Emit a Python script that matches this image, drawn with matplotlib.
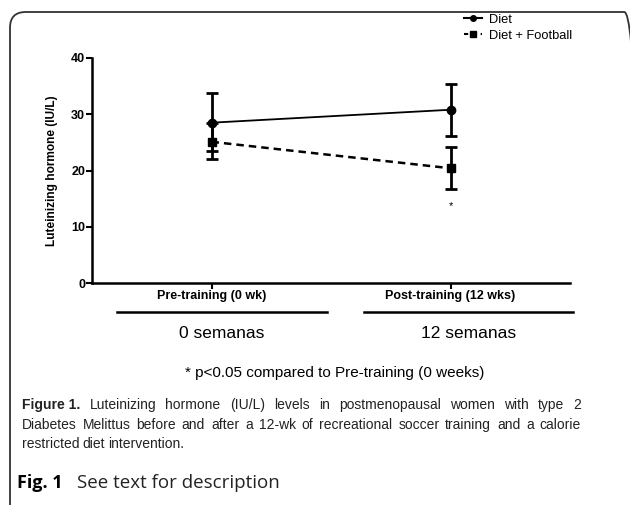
import matplotlib
matplotlib.use("Agg")
import matplotlib.pyplot as plt
from matplotlib.patches import FancyBboxPatch
from matplotlib.lines import Line2D

# data
timepoints = ["Pre-training (0 wk)", "Post-training (12 wks)"]
period_labels = ["0 semanas", "12 semanas"]
diet_mean = [28.5, 30.8]
diet_err_low = [5.0, 4.7]
diet_err_high = [5.2, 4.6]
football_mean = [25.1, 20.4]
football_err_low = [3.0, 3.7]
football_err_high = [3.4, 3.8]
y_ticks = [0, 10, 20, 30, 40]

W, H = 630, 505
fig = plt.figure(figsize=(W / 100, H / 100), dpi=100)
plt.rcParams['font.family'] = ['Liberation Sans', 'DejaVu Sans']


def fx(px):
    return px / W


def fy(py):
    return 1 - py / H


# rounded panel border (right and bottom run off the image)
frame = FancyBboxPatch((fx(10), fy(522)), fx(640) - fx(10), fy(12) - fy(522),
                       boxstyle="round,pad=0,rounding_size=0.025",
                       transform=fig.transFigure, fill=False,
                       edgecolor="#333333", linewidth=1.3, mutation_aspect=W / H)
fig.patches.append(frame)

ax = fig.add_axes([fx(92), fy(283), fx(570) - fx(92), fy(58) - fy(283)])
xpos = [0.5, 1.5]

ax.errorbar(xpos, football_mean, yerr=[football_err_low, football_err_high], color="black",
            marker="s", markersize=5.5, linestyle=(0, (3, 2)), linewidth=1.8,
            elinewidth=2, capsize=4, capthick=2, label="Diet + Football")
ax.errorbar(xpos, diet_mean, yerr=[diet_err_low, diet_err_high], color="black",
            marker="o", markersize=6, linestyle="-", linewidth=1.3,
            elinewidth=2, capsize=4, capthick=2, label="Diet")
ax.text(xpos[1], 13.7, "*", ha="center", va="center", fontsize=8)

ax.set_xlim(0, 2)
ax.set_ylim(0, 40)
ax.set_yticks(y_ticks)
ax.set_yticklabels([str(t) for t in y_ticks], fontsize=9, fontweight="bold")
ax.set_xticks(xpos)
ax.set_xticklabels(timepoints, fontsize=9, fontweight="bold")
ax.tick_params(axis="both", direction="out", length=4, width=1.5, pad=1)
ax.spines["top"].set_visible(False)
ax.spines["right"].set_visible(False)
ax.spines["left"].set_linewidth(1.8)
ax.spines["bottom"].set_linewidth(1.8)
ax.set_ylabel("Luteinizing hormone (IU/L)", fontsize=8.6, fontweight="bold", labelpad=9)

handles = [
    Line2D([], [], color="black", marker="o", markersize=4, linestyle="-", linewidth=1.5),
    Line2D([], [], color="black", marker="s", markersize=4, linestyle=(0, (2, 2)), linewidth=1.5),
]
fig.legend(handles, ["Diet", "Diet + Football"], loc="upper left",
           bbox_to_anchor=(fx(452), fy(2)), frameon=False, fontsize=9.3,
           handlelength=1.4, handletextpad=0.6, labelspacing=0.3)

# period bars below the axis
for (x0, x1), lab in zip([(117, 327), (364, 573)], period_labels):
    fig.add_artist(Line2D([fx(x0), fx(x1)], [fy(312), fy(312)], color="black", linewidth=1.8))
    fig.text(fx((x0 + x1) / 2), fy(333), lab, ha="center", va="center", fontsize=12.5)

fig.text(fx(335), fy(373), "* p<0.05 compared to Pre-training (0 weeks)",
         ha="center", va="center", fontsize=11)

# justified caption lines
cap_lines = [
    ["Figure 1.", "Luteinizing", "hormone", "(IU/L)", "levels", "in", "postmenopausal",
     "women", "with", "type", "2"],
    ["Diabetes", "Melittus", "before", "and", "after", "a", "12-wk", "of", "recreational",
     "soccer", "training", "and", "a", "calorie"],
    ["restricted", "diet", "intervention."],
]
cap_y = [405, 425, 444]
left, right = 22, 581
fig.canvas.draw()
renderer = fig.canvas.get_renderer()
for i, (words, yy) in enumerate(zip(cap_lines, cap_y)):
    texts = []
    for w in words:
        weight = "bold" if w == "Figure 1." else "normal"
        t = fig.text(0, fy(yy), w, ha="left", va="center", fontsize=10,
                     fontweight=weight, color="#222222")
        texts.append(t)
    widths = [t.get_window_extent(renderer).width for t in texts]
    if i < 2:
        gap = (right - left - sum(widths)) / (len(words) - 1)
    else:
        gap = 3.0
    x = left
    for t, w in zip(texts, widths):
        t.set_x(fx(x))
        x += w + gap

fig.text(fx(17), fy(483), "Fig. 1", ha="left", va="center", fontsize=13,
         fontweight="bold", family=["Open Sans", "DejaVu Sans"])
fig.text(fx(77), fy(483), "See text for description", ha="left", va="center",
         fontsize=13.5, family=["Open Sans", "DejaVu Sans"], color="#222222")

fig.savefig("out.png", dpi=100)
